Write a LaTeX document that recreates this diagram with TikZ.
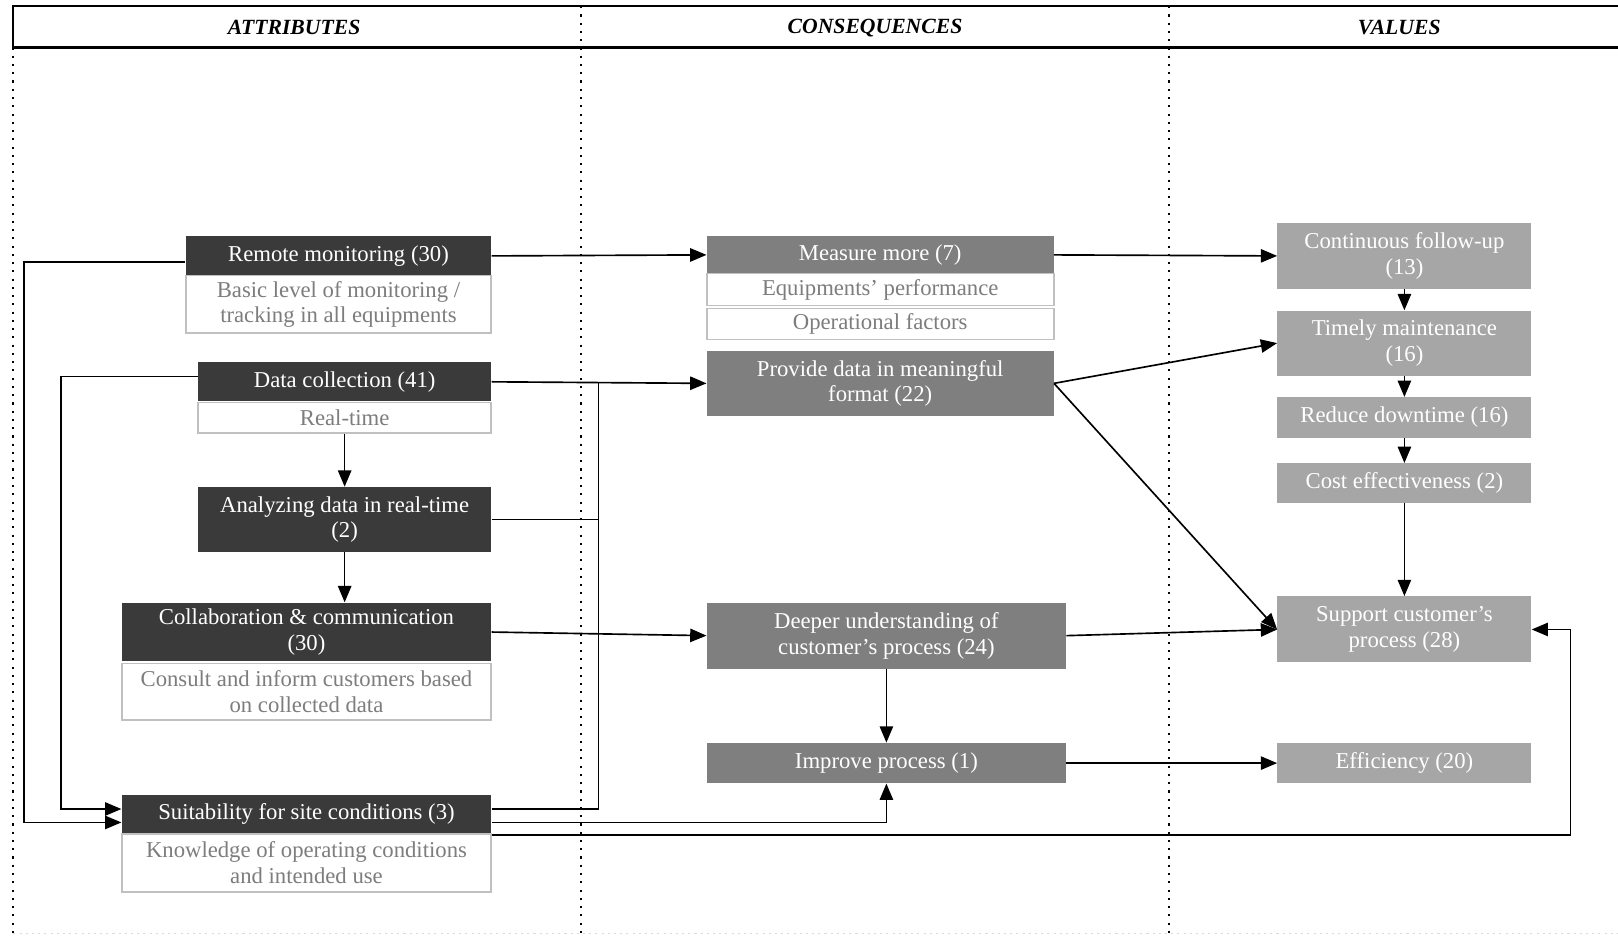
\documentclass[tikz,border=0pt]{standalone}
\usepackage{fontspec}
\setmainfont{Liberation Serif}
\usetikzlibrary{arrows}

\definecolor{attrgray}{RGB}{58,58,58}
\definecolor{consgray}{RGB}{127,127,127}
\definecolor{valgray}{RGB}{166,166,166}
\definecolor{subline}{RGB}{192,192,192}
\definecolor{subtext}{RGB}{125,125,125}

\tikzset{
  attr/.style={fill=attrgray, text=white, inner sep=0pt, align=center},
  cons/.style={fill=consgray, text=white, inner sep=0pt, align=center},
  val/.style={fill=valgray, text=white, inner sep=0pt, minimum width=123pt, align=center},
  sub/.style={draw=subline, line width=0.9pt, fill=white, text=subtext, inner sep=0pt, align=center},
  conn/.style={line width=0.8pt, ->, >=triangle 45},
  head/.style={font=\fontsize{10.5}{12}\selectfont\bfseries\itshape},
}

\begin{document}
\begin{tikzpicture}[x=0.5pt, y=-0.5pt, font=\fontsize{11}{12.5}\selectfont]
    \useasboundingbox (0,0) rectangle (1568,907);
    % Draw the header and the column separators
    \draw[line width=1pt] (1572,6) -- (13,6) -- (13,46) -- (1572,46);
    \node[head] (hattr) at (285,27) {ATTRIBUTES};
    \node[head] (hcons) at (848,27) {CONSEQUENCES};
    \node[head] (hval) at (1356,27) {VALUES};
    \draw[line width=1pt, dash pattern=on 1pt off 3pt] (13,46) -- (13,907);
    \foreach \x in {563, 1133}{
      \draw[line width=1pt, dash pattern=on 1pt off 3pt] (\x,6) -- (\x,907);
    }
    \draw[gray!30, line width=0.6pt, dash pattern=on 1pt off 2pt] (13,905) -- (1568,905);

    % Attributes
    \node[attr, minimum width=148pt, minimum height=19pt] (rm) at (328,248) {Remote monitoring (30)};
    \node[sub, minimum width=148pt, minimum height=28pt] (rmsub) at (328,295) {Basic level of monitoring /\\tracking in all equipments};
    \node[attr, minimum width=142pt, minimum height=19pt] (dc) at (334,370) {Data collection (41)};
    \node[sub, minimum width=142pt, minimum height=15pt] (dcsub) at (334,405) {Real-time};
    \node[attr, minimum width=142pt, minimum height=31.5pt] (adr) at (334,503.5) {Analyzing data in real-time\\(2)};
    \node[attr, minimum width=179pt, minimum height=28.5pt] (cc) at (297,612.5) {Collaboration \& communication\\(30)};
    \node[sub, minimum width=179pt, minimum height=27.5pt] (ccsub) at (297,670.5) {Consult and inform customers based\\on collected data};
    \node[attr, minimum width=179pt, minimum height=18.5pt] (sc) at (297,788.5) {Suitability for site conditions (3)};
    \node[sub, minimum width=179pt, minimum height=28pt] (scsub) at (297,836) {Knowledge of operating conditions\\and intended use};

    % Consequences
    \node[cons, minimum width=168pt, minimum height=18pt] (mm) at (853,247) {Measure more (7)};
    \node[sub, minimum width=168pt, minimum height=15.5pt] (mmsub1) at (853,280.5) {Equipments' performance};
    \node[sub, minimum width=168pt, minimum height=15pt] (mmsub2) at (853,314) {Operational factors};
    \node[cons, minimum width=168pt, minimum height=31.5pt] (pd) at (853,371.5) {Provide data in meaningful\\format (22)};
    \node[cons, minimum width=174pt, minimum height=32pt] (du) at (859,616) {Deeper understanding of\\customer's process (24)};
    \node[cons, minimum width=174pt, minimum height=19.5pt] (ip) at (859,739.5) {Improve process (1)};

    % Values
    \node[val, minimum height=32pt] (cf) at (1361,248) {Continuous follow-up\\(13)};
    \node[val, minimum height=31.5pt] (tm) at (1361,332.5) {Timely maintenance\\(16)};
    \node[val, minimum height=19.5pt] (rd) at (1361,404.5) {Reduce downtime (16)};
    \node[val, minimum height=19pt] (ce) at (1361,468) {Cost effectiveness (2)};
    \node[val, minimum height=32pt] (sp) at (1361,610) {Support customer's\\process (28)};
    \node[val, minimum height=19.5pt] (ef) at (1361,739.5) {Efficiency (20)};

    % Draw the links on the left side
    \draw[conn] (rm.west |- 0,254) -| (23,797) -- (sc.west |- 0,797);
    \draw[conn] (dc.west |- 0,365) -| (59,784) -- (sc.west |- 0,784);
    \draw[conn] (dcsub) -- (adr);
    \draw[conn] (adr.south) -- (adr.south |- cc.north);

    % Draw the links into the consequences
    \draw[conn] (rm.east) -- (mm.west);
    \draw[conn] (dc.east) -- (pd.west);
    \draw[line width=0.8pt] (adr.east) -| (580,370);
    \draw[line width=0.8pt] (sc.east |- 0,784) -| (580,370);
    \draw[conn] (cc.east) -- (du.west);
    \draw[conn] (sc.east |- 0,797) -| (ip.south);
    \draw[conn] (du) -- (ip);

    % Draw the links into the values
    \draw[conn] (mm.east) -- (cf.west);
    \draw[conn] (pd.east) -- (tm.west);
    \draw[conn] (pd.east) -- (sp.west);
    \draw[conn] (du.east) -- (sp.west);
    \draw[conn] (ip.east) -- (ef.west);
    \draw[conn] (sc.east |- 0,809) -| (1522,610) -- (sp.east);
    \foreach \a/\b in {cf/tm, tm/rd, rd/ce, ce/sp}{
      \draw[conn] (\a) -- (\b);
    }
\end{tikzpicture}
\end{document}
